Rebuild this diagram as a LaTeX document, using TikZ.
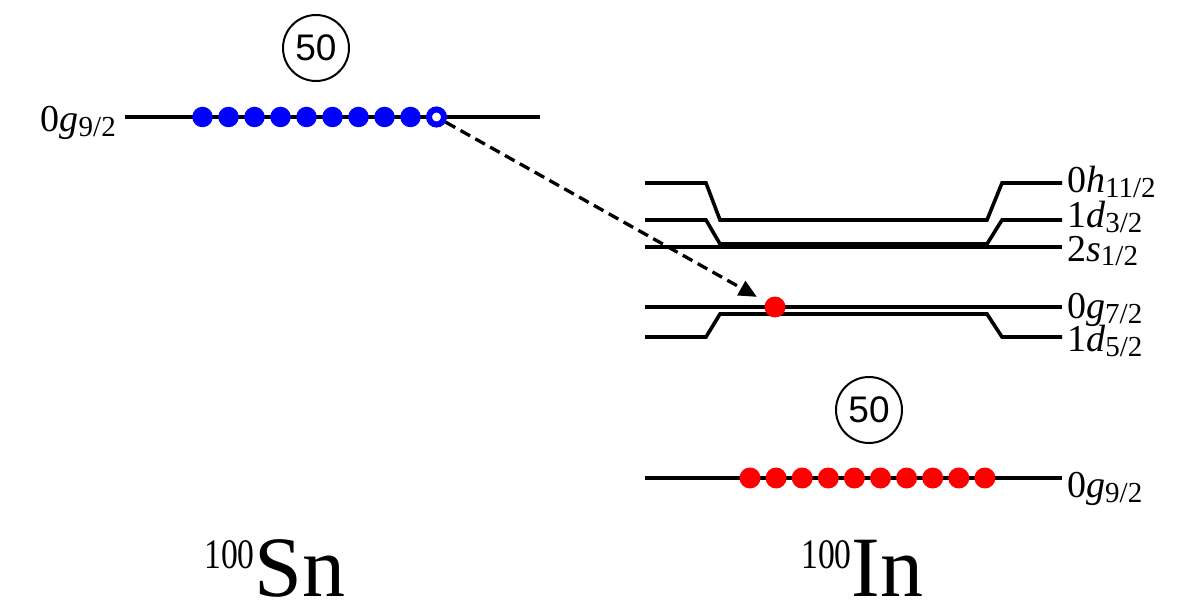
\documentclass[tikz,border=0pt]{standalone}
\usepackage{fontspec}
\setmainfont{Liberation Serif}
\newfontfamily\arialf{Liberation Sans}
\usetikzlibrary{arrows.meta}
\newcommand\lvlab[3]{{\fontsize{38}{40}\selectfont #1\textit{#2}\raisebox{-5pt}{\fontsize{29}{30}\selectfont #3}}}
\newcommand\nuc[2]{\raisebox{0pt}[\height][0pt]{{\fontsize{42}{44}\selectfont\raisebox{28pt}{\scalebox{0.8}[1]{#1}}}{\fontsize{86}{90}\selectfont #2}}}
\begin{document}
\begin{tikzpicture}[x=1pt,y=-1pt,
  level/.style={line width=3.6pt, line join=miter},
  bdot/.style={circle, fill=blue, minimum size=20.5pt, inner sep=0pt},
  rdot/.style={circle, fill=red, minimum size=21pt, inner sep=0pt},
  hole/.style={circle, draw=blue, fill=white, line width=6pt, minimum size=15pt, inner sep=0pt},
  magic/.style={circle, draw, line width=2pt, minimum size=66pt, inner sep=0pt, font=\arialf\fontsize{37}{40}\selectfont},
  lab/.style={inner sep=0pt},
  jump/.style={line width=3.3pt, dash pattern=on 11pt off 6pt, -{Triangle[length=18pt,width=16pt]}, shorten >=10pt}
]
\useasboundingbox (0,0) rectangle (1195,607);

% 100Sn
\draw[level] (125,117) -- (540,117);
\foreach \i in {0,...,8} \node[bdot] (b\i) at ({202.5+26*\i},117) {};
\node[hole] (b9) at (436.5,117) {};
\node[magic] (m1) at (316,48) {50};
\node[lab, anchor=base east] (lsn) at (116,132) {\lvlab{0}{g}{9/2}};
\node[lab, anchor=base west] (sn) at (204,596) {\nuc{100}{Sn}};

% 100In
\draw[level] (645,183) -- (706,183) -- (720,220) -- (987,220) -- (1002,183) -- (1062,183);
\draw[level] (645,220) -- (706,220) -- (720,244) -- (987,244) -- (1002,220) -- (1062,220);
\draw[level] (645,247) -- (1062,247);
\draw[level] (645,307) -- (1062,307);
\draw[level] (645,337) -- (706,337) -- (720,314) -- (987,314) -- (1002,337) -- (1062,337);
\draw[level] (645,478) -- (1062,478);

\foreach \i in {0,...,9} \node[rdot] (r\i) at ({750+26.1*\i},478) {};
\node[rdot] (p) at (775,307) {};
\node[magic] (m2) at (869,410) {50};

\node[lab, anchor=base west] (l1) at (1067,193) {\lvlab{0}{h}{11/2}};
\node[lab, anchor=base west] (l2) at (1067,228) {\lvlab{1}{d}{3/2}};
\node[lab, anchor=base west] (l3) at (1067,261) {\lvlab{2}{s}{1/2}};
\node[lab, anchor=base west] (l4) at (1067,318) {\lvlab{0}{g}{7/2}};
\node[lab, anchor=base west] (l5) at (1067,351) {\lvlab{1}{d}{5/2}};
\node[lab, anchor=base west] (l6) at (1067,497) {\lvlab{0}{g}{9/2}};
\node[lab, anchor=base west] (in) at (801,596) {\nuc{100}{In}};

% transition
\draw[jump] (b9) -- (p);
\end{tikzpicture}
\end{document}
